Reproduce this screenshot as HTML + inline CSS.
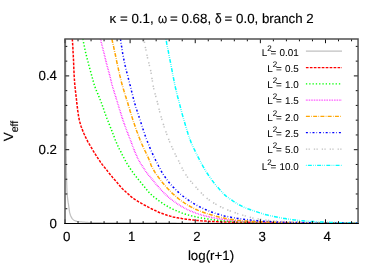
<!DOCTYPE html><html><head><meta charset="utf-8"><style>
html,body{margin:0;padding:0;background:#fff}
body{width:382px;height:266px;position:relative;overflow:hidden;font-family:"Liberation Sans",sans-serif;color:#000;font-size:13.3px;text-rendering:geometricPrecision;-webkit-text-stroke:0.15px #000}
.t{position:absolute;white-space:nowrap;line-height:1}
.r{text-align:right}
sup{font-size:8px;vertical-align:baseline;position:relative;top:-5.2px;line-height:0;margin-right:-1.1px}
sub{font-size:10.6px;vertical-align:baseline;position:relative;top:4.8px;line-height:0}
</style></head><body>
<svg width="382" height="266" viewBox="0 0 382 266" style="position:absolute;left:0;top:0">
<defs><clipPath id="c"><rect x="65" y="39" width="293.05" height="184.5"/></clipPath></defs>
<g clip-path="url(#c)" fill="none" stroke-width="1.5">
<path d="M65.6,39.0 L65.6,40.5 L65.6,42.0 L65.6,43.5 L65.6,45.0 L65.6,46.5 L65.6,48.0 L65.6,49.5 L65.6,51.0 L65.6,52.5 L65.7,54.0 L65.7,55.5 L65.7,57.0 L65.7,58.5 L65.7,60.0 L65.7,61.5 L65.7,63.0 L65.7,64.5 L65.7,66.0 L65.7,67.5 L65.7,69.0 L65.7,70.5 L65.7,72.0 L65.7,73.5 L65.7,75.0 L65.8,76.4 L65.8,77.9 L65.8,79.4 L65.8,80.9 L65.8,82.4 L65.8,83.9 L65.8,85.4 L65.8,86.9 L65.8,88.4 L65.8,89.9 L65.8,91.4 L65.8,92.9 L65.8,94.4 L65.9,95.9 L65.9,97.4 L65.9,98.9 L65.9,100.4 L65.9,101.9 L65.9,103.4 L65.9,104.9 L65.9,106.4 L65.9,107.9 L65.9,109.4 L65.9,110.9 L66.0,112.4 L66.0,113.9 L66.0,115.4 L66.0,116.9 L66.0,118.4 L66.0,119.9 L66.0,121.4 L66.0,122.9 L66.0,124.4 L66.0,125.9 L66.0,127.4 L66.1,128.9 L66.1,130.4 L66.1,131.9 L66.1,133.4 L66.1,134.9 L66.1,136.4 L66.1,137.9 L66.1,139.4 L66.1,140.9 L66.1,142.4 L66.1,143.9 L66.2,145.4 L66.2,146.9 L66.2,148.4 L66.2,149.9 L66.2,151.3 L66.2,152.8 L66.2,154.3 L66.2,155.8 L66.3,157.3 L66.3,158.8 L66.3,160.3 L66.3,161.8 L66.3,163.3 L66.3,164.8 L66.4,166.3 L66.4,167.8 L66.4,169.3 L66.4,170.8 L66.4,172.3 L66.5,173.8 L66.5,175.3 L66.5,176.8 L66.5,178.3 L66.6,179.8 L66.6,181.3 L66.7,182.8 L66.7,184.3 L66.8,185.8 L66.8,187.3 L66.9,188.8 L66.9,190.3 L67.0,191.8 L67.1,193.3 L67.2,194.8 L67.4,196.3 L67.5,197.7 L67.7,199.2 L67.9,200.7 L68.1,202.2 L68.4,203.7 L68.6,205.2 L68.8,206.7 L69.0,208.2 L69.2,209.7 L69.4,211.2 L69.7,212.7 L70.1,214.1 L70.5,215.5 L71.2,216.9 L72.0,218.3 L72.9,219.4 L74.0,220.2 L75.4,220.8 L76.9,221.3 L78.4,221.6 L79.9,221.8 L81.4,221.9 L82.8,222.1 L84.3,222.2 L85.8,222.3 L87.4,222.4 L88.9,222.5 L90.4,222.5 L91.9,222.5 L93.4,222.6 L94.8,222.6 L96.3,222.6 L97.8,222.7 L99.3,222.7 L100.8,222.7 L102.3,222.8 L103.8,222.8 L105.3,222.8 L106.8,222.8 L108.3,222.8 L109.8,222.8 L111.3,222.9 L112.8,222.9 L114.3,222.9 L115.8,222.9 L117.3,222.9 L118.8,222.9 L120.3,222.9 L121.8,222.9 L123.3,222.9 L124.8,222.9 L126.3,222.9 L127.8,222.9 L129.3,222.9 L130.8,222.9 L132.3,222.9 L133.8,222.9 L135.3,222.9 L136.8,222.9 L138.3,222.9 L139.8,222.9 L141.3,222.9 L142.8,222.9 L144.3,222.9 L145.8,222.9 L147.3,222.9 L148.8,222.9 L150.3,222.9 L151.8,222.9 L153.3,222.9 L154.8,222.9 L156.3,222.9 L157.8,222.9 L159.3,222.9 L160.8,222.9 L162.3,222.9 L163.8,222.9 L165.3,222.9 L166.8,222.9 L168.3,222.9 L169.7,222.9 L171.2,222.9 L172.7,222.9 L174.2,222.9 L175.7,222.9 L177.2,223.0 L178.7,223.0 L180.2,223.0 L181.7,223.0 L183.2,223.0 L184.7,223.0 L186.2,223.0 L187.7,223.0 L189.2,223.0 L190.7,223.0 L192.2,223.0 L193.7,223.0 L195.2,223.0 L196.7,223.0 L198.2,223.0 L199.7,223.0 L201.2,223.0 L202.7,223.0 L204.2,223.0 L205.7,223.0 L207.2,223.0 L208.7,223.0 L210.2,223.0 L211.7,223.0 L213.2,223.0 L214.7,223.0 L216.2,223.0 L217.7,223.0 L219.2,223.0 L220.7,223.0 L222.2,223.0 L223.7,223.0 L225.2,223.0 L226.7,223.0 L228.2,223.0 L229.7,223.0 L231.2,223.0 L232.7,223.0 L234.2,223.0 L235.7,223.0 L237.2,223.0 L238.7,223.0 L240.2,223.0 L241.7,223.0 L243.1,223.0 L244.6,223.0 L246.1,223.0 L247.6,223.0 L249.1,223.0 L250.6,223.0 L252.1,223.0 L253.6,223.0 L255.1,223.0 L256.6,223.0 L258.1,223.0 L259.6,223.0 L261.1,223.0 L262.6,223.0 L264.1,223.0 L265.6,223.0 L267.1,223.0 L268.6,223.0 L270.1,223.0 L271.6,223.0 L273.1,223.0 L274.6,223.0 L276.1,223.0 L277.6,223.0 L279.1,223.0 L280.6,223.0 L282.1,223.0 L283.6,223.0 L285.1,223.0 L286.6,223.0 L288.1,223.0 L289.6,223.0 L291.1,223.0 L292.6,223.0 L294.1,223.0 L295.6,223.0 L297.1,223.0 L298.6,223.0 L300.1,223.0 L301.6,223.0 L303.1,223.0 L304.6,223.0 L306.1,223.0 L307.6,223.0 L309.1,223.0 L310.6,223.0 L312.1,223.0 L313.6,223.0 L315.1,223.0 L316.6,223.0 L318.1,223.0 L319.5,223.0 L321.0,223.0 L322.5,223.0 L324.0,223.0 L325.5,223.0 L327.0,223.0 L328.5,223.0 L330.0,223.0 L331.5,223.0 L333.0,223.0 L334.5,223.0 L336.0,223.0 L337.5,223.0 L339.0,223.0 L340.5,223.0 L342.0,223.0 L343.5,223.0 L345.0,223.0 L346.5,223.0 L348.0,223.0 L349.5,223.0 L351.0,223.0 L352.5,223.0 L354.0,223.0 L355.5,223.0 L357.0,223.0 L358.5,223.0" stroke="#c0c0c0" stroke-width="1.25"/>
<path d="M72.3,38.9 L72.4,40.4 L72.5,41.9 L72.6,43.4 L72.7,44.9 L72.8,46.4 L72.9,47.9 L72.9,49.4 L73.0,50.9 L73.1,52.4 L73.2,53.9 L73.3,55.4 L73.3,56.9 L73.4,58.4 L73.5,59.9 L73.6,61.3 L73.6,62.8 L73.7,64.3 L73.7,65.8 L73.8,67.3 L73.8,68.8 L73.9,70.3 L74.0,71.8 L74.0,73.3 L74.1,74.8 L74.2,76.3 L74.3,77.8 L74.4,79.3 L74.5,80.8 L74.6,82.3 L74.7,83.8 L74.9,85.3 L75.0,86.8 L75.2,88.3 L75.3,89.8 L75.5,91.3 L75.7,92.7 L75.8,94.2 L76.0,95.7 L76.2,97.2 L76.4,98.7 L76.5,100.2 L76.7,101.7 L76.8,103.2 L77.0,104.7 L77.2,106.2 L77.4,107.6 L77.5,109.1 L77.7,110.6 L78.0,112.1 L78.2,113.6 L78.4,115.1 L78.6,116.6 L78.9,118.0 L79.2,119.5 L79.5,121.0 L79.9,122.4 L80.3,123.8 L80.7,125.3 L81.2,126.7 L81.8,128.1 L82.3,129.5 L82.8,130.9 L83.4,132.3 L84.0,133.7 L84.6,135.0 L85.2,136.4 L85.9,137.8 L86.5,139.1 L87.2,140.4 L87.9,141.8 L88.7,143.1 L89.4,144.3 L90.2,145.6 L90.9,146.9 L91.7,148.2 L92.4,149.5 L93.2,150.8 L94.0,152.1 L94.8,153.4 L95.6,154.6 L96.4,155.9 L97.2,157.2 L98.0,158.4 L98.8,159.7 L99.7,160.9 L100.5,162.2 L101.4,163.4 L102.3,164.6 L103.2,165.7 L104.2,166.9 L105.1,168.1 L106.1,169.2 L107.0,170.4 L107.9,171.6 L108.8,172.8 L109.8,174.0 L110.7,175.1 L111.7,176.3 L112.6,177.4 L113.6,178.6 L114.6,179.7 L115.6,180.8 L116.6,181.9 L117.5,183.1 L118.5,184.2 L119.5,185.4 L120.4,186.5 L121.4,187.7 L122.4,188.8 L123.5,189.8 L124.6,190.8 L125.7,191.8 L126.8,192.8 L128.0,193.8 L129.1,194.8 L130.2,195.9 L131.3,196.8 L132.5,197.8 L133.7,198.6 L134.9,199.5 L136.2,200.3 L137.5,201.1 L138.8,201.9 L140.1,202.6 L141.4,203.3 L142.7,204.1 L144.0,204.8 L145.3,205.5 L146.6,206.2 L147.9,206.9 L149.3,207.6 L150.6,208.3 L151.9,209.0 L153.3,209.6 L154.7,210.3 L156.0,210.9 L157.4,211.6 L158.7,212.2 L160.1,212.8 L161.5,213.3 L162.9,213.8 L164.3,214.3 L165.7,214.8 L167.2,215.3 L168.6,215.7 L170.1,216.1 L171.5,216.5 L173.0,216.9 L174.4,217.2 L175.9,217.5 L177.3,217.8 L178.8,218.1 L180.3,218.3 L181.8,218.6 L183.3,218.8 L184.7,219.0 L186.2,219.2 L187.7,219.4 L189.2,219.6 L190.7,219.8 L192.2,219.9 L193.7,220.1 L195.2,220.2 L196.7,220.4 L198.2,220.5 L199.7,220.6 L201.2,220.8 L202.6,220.9 L204.1,221.0 L205.6,221.1 L207.1,221.2 L208.6,221.3 L210.1,221.4 L211.6,221.4 L213.1,221.5 L214.6,221.6 L216.1,221.6 L217.6,221.7 L219.1,221.8 L220.6,221.8 L222.1,221.9 L223.6,221.9 L225.1,222.0 L226.6,222.0 L228.1,222.1 L229.6,222.1 L231.1,222.2 L232.6,222.2 L234.1,222.3 L235.6,222.3 L237.1,222.3 L238.6,222.4 L240.1,222.4 L241.6,222.4 L243.1,222.5 L244.6,222.5 L246.1,222.5 L247.6,222.5 L249.1,222.6 L250.6,222.6 L252.1,222.6 L253.6,222.6 L255.1,222.6 L256.6,222.7 L258.1,222.7 L259.6,222.7 L261.1,222.7 L262.6,222.7 L264.1,222.7 L265.6,222.8 L267.1,222.8 L268.6,222.8 L270.1,222.8 L271.6,222.8 L273.1,222.8 L274.6,222.8 L276.1,222.9 L277.6,222.9 L279.1,222.9 L280.6,222.9 L282.1,222.9 L283.6,222.9 L285.1,222.9 L286.6,222.9 L288.1,222.9 L289.5,223.0 L291.0,223.0 L292.5,223.0 L294.0,223.0 L295.5,223.0 L297.0,223.0 L298.5,223.0 L300.0,223.0 L301.5,223.0 L303.0,223.0 L304.5,223.0 L306.0,223.0 L307.5,223.0 L309.0,223.0 L310.5,223.0 L312.0,223.0 L313.5,223.0 L315.0,223.0 L316.5,223.0 L318.0,223.0 L319.5,223.1 L321.0,223.1 L322.5,223.1 L324.0,223.1 L325.5,223.1 L327.0,223.1 L328.5,223.1 L330.0,223.1 L331.5,223.1 L333.0,223.1 L334.5,223.1 L336.0,223.1 L337.5,223.1 L339.0,223.1 L340.5,223.1 L342.0,223.1 L343.5,223.1 L345.0,223.1 L346.5,223.1 L348.0,223.1 L349.5,223.1 L351.0,223.1 L352.5,223.1 L354.0,223.1 L355.5,223.1 L357.0,223.1 L358.5,223.1" stroke="#ff0000" stroke-dasharray="2.64 1.32"/>
<path d="M82.9,38.9 L83.2,40.4 L83.4,41.8 L83.7,43.3 L84.0,44.8 L84.3,46.2 L84.6,47.7 L84.9,49.2 L85.2,50.6 L85.5,52.1 L85.9,53.5 L86.2,55.0 L86.6,56.4 L86.9,57.9 L87.3,59.3 L87.7,60.8 L88.1,62.2 L88.4,63.7 L88.8,65.1 L89.2,66.6 L89.6,68.0 L90.0,69.5 L90.4,70.9 L90.8,72.3 L91.2,73.8 L91.6,75.2 L92.0,76.7 L92.4,78.1 L92.8,79.5 L93.2,81.0 L93.6,82.4 L94.0,83.9 L94.4,85.3 L94.9,86.7 L95.4,88.1 L96.0,89.5 L96.5,90.9 L97.1,92.2 L97.7,93.6 L98.3,95.0 L98.8,96.4 L99.4,97.8 L100.0,99.2 L100.6,100.5 L101.1,101.9 L101.6,103.3 L102.1,104.7 L102.6,106.2 L103.1,107.6 L103.6,109.0 L104.1,110.4 L104.5,111.8 L105.0,113.2 L105.5,114.6 L106.0,116.0 L106.5,117.4 L107.1,118.8 L107.7,120.2 L108.2,121.6 L108.8,123.0 L109.3,124.4 L109.9,125.8 L110.4,127.2 L110.9,128.6 L111.5,130.0 L112.0,131.3 L112.6,132.7 L113.1,134.1 L113.7,135.5 L114.2,136.9 L114.7,138.3 L115.2,139.7 L115.8,141.1 L116.4,142.5 L116.9,143.9 L117.5,145.2 L118.2,146.6 L118.8,147.9 L119.5,149.3 L120.2,150.6 L120.9,151.9 L121.6,153.2 L122.2,154.6 L122.9,155.9 L123.6,157.3 L124.2,158.6 L124.9,159.9 L125.7,161.2 L126.4,162.5 L127.2,163.8 L128.0,165.1 L128.8,166.3 L129.6,167.6 L130.4,168.8 L131.2,170.1 L132.1,171.3 L132.9,172.5 L133.8,173.7 L134.7,174.9 L135.6,176.1 L136.6,177.3 L137.5,178.4 L138.4,179.6 L139.4,180.7 L140.4,181.9 L141.3,183.0 L142.3,184.2 L143.2,185.4 L144.2,186.5 L145.1,187.7 L146.0,188.9 L147.0,190.1 L147.9,191.2 L148.9,192.3 L149.9,193.4 L151.0,194.4 L152.1,195.4 L153.2,196.4 L154.4,197.4 L155.6,198.3 L156.8,199.2 L158.0,200.1 L159.2,201.0 L160.4,201.8 L161.6,202.6 L162.9,203.5 L164.1,204.3 L165.4,205.1 L166.7,205.9 L168.0,206.6 L169.3,207.4 L170.6,208.1 L171.9,208.7 L173.3,209.4 L174.6,210.0 L176.0,210.6 L177.4,211.2 L178.8,211.8 L180.2,212.3 L181.6,212.9 L183.0,213.4 L184.4,213.9 L185.8,214.3 L187.2,214.7 L188.7,215.1 L190.1,215.5 L191.6,215.9 L193.0,216.3 L194.5,216.6 L195.9,216.9 L197.4,217.3 L198.9,217.6 L200.3,217.8 L201.8,218.1 L203.3,218.4 L204.8,218.6 L206.2,218.8 L207.7,219.0 L209.2,219.2 L210.7,219.4 L212.1,219.6 L213.6,219.8 L215.1,220.0 L216.6,220.2 L218.1,220.3 L219.6,220.5 L221.1,220.6 L222.6,220.8 L224.0,220.9 L225.5,221.0 L227.0,221.1 L228.5,221.2 L230.0,221.3 L231.5,221.4 L233.0,221.5 L234.5,221.6 L236.0,221.6 L237.5,221.7 L239.0,221.8 L240.5,221.8 L242.0,221.9 L243.4,221.9 L244.9,222.0 L246.4,222.0 L247.9,222.1 L249.4,222.1 L250.9,222.1 L252.4,222.2 L253.9,222.2 L255.4,222.3 L256.9,222.3 L258.4,222.3 L259.9,222.4 L261.4,222.4 L262.9,222.4 L264.4,222.4 L265.8,222.5 L267.3,222.5 L268.8,222.5 L270.3,222.6 L271.8,222.6 L273.3,222.6 L274.8,222.6 L276.3,222.7 L277.8,222.7 L279.3,222.7 L280.8,222.7 L282.3,222.7 L283.8,222.8 L285.3,222.8 L286.8,222.8 L288.3,222.8 L289.8,222.8 L291.3,222.8 L292.7,222.8 L294.2,222.9 L295.7,222.9 L297.2,222.9 L298.7,222.9 L300.2,222.9 L301.7,222.9 L303.2,222.9 L304.7,222.9 L306.2,222.9 L307.7,222.9 L309.2,223.0 L310.7,223.0 L312.2,223.0 L313.7,223.0 L315.2,223.0 L316.7,223.0 L318.2,223.0 L319.6,223.0 L321.1,223.0 L322.6,223.0 L324.1,223.0 L325.6,223.0 L327.1,223.0 L328.6,223.0 L330.1,223.0 L331.6,223.1 L333.1,223.1 L334.6,223.1 L336.1,223.1 L337.6,223.1 L339.1,223.1 L340.6,223.1 L342.1,223.1 L343.6,223.1 L345.1,223.1 L346.5,223.1 L348.0,223.1 L349.5,223.1 L351.0,223.1 L352.5,223.1 L354.0,223.1 L355.5,223.1 L357.0,223.1 L358.5,223.1" stroke="#00ff00" stroke-dasharray="1.32 1.98"/>
<path d="M100.4,38.9 L100.8,40.4 L101.1,41.8 L101.5,43.3 L101.9,44.7 L102.2,46.2 L102.6,47.6 L103.0,49.1 L103.3,50.5 L103.7,52.0 L104.1,53.4 L104.4,54.9 L104.8,56.4 L105.1,57.8 L105.5,59.3 L105.8,60.7 L106.2,62.2 L106.6,63.6 L106.9,65.1 L107.3,66.5 L107.7,68.0 L108.1,69.4 L108.5,70.9 L108.9,72.3 L109.3,73.8 L109.7,75.2 L110.1,76.7 L110.4,78.1 L110.8,79.6 L111.1,81.0 L111.5,82.5 L111.8,84.0 L112.2,85.4 L112.6,86.8 L113.0,88.3 L113.5,89.7 L113.9,91.1 L114.4,92.6 L114.8,94.0 L115.3,95.4 L115.7,96.9 L116.2,98.3 L116.6,99.7 L117.1,101.2 L117.5,102.6 L117.9,104.0 L118.4,105.5 L118.8,106.9 L119.2,108.3 L119.7,109.8 L120.1,111.2 L120.6,112.6 L121.0,114.1 L121.5,115.5 L121.9,116.9 L122.4,118.3 L122.9,119.8 L123.3,121.2 L123.8,122.6 L124.3,124.0 L124.8,125.4 L125.3,126.8 L125.9,128.2 L126.4,129.6 L126.9,131.1 L127.5,132.5 L128.0,133.9 L128.5,135.3 L129.1,136.7 L129.6,138.0 L130.2,139.4 L130.7,140.8 L131.2,142.2 L131.8,143.7 L132.3,145.1 L132.8,146.5 L133.4,147.9 L133.9,149.3 L134.4,150.7 L135.0,152.1 L135.6,153.5 L136.2,154.9 L136.8,156.2 L137.4,157.6 L138.0,158.9 L138.7,160.2 L139.5,161.5 L140.3,162.8 L141.1,164.0 L141.9,165.3 L142.7,166.6 L143.5,167.9 L144.3,169.1 L145.1,170.4 L145.9,171.7 L146.8,172.9 L147.7,174.0 L148.7,175.2 L149.7,176.3 L150.6,177.5 L151.6,178.6 L152.5,179.8 L153.5,181.0 L154.4,182.2 L155.3,183.3 L156.3,184.5 L157.3,185.6 L158.3,186.7 L159.3,187.9 L160.3,189.0 L161.3,190.1 L162.3,191.2 L163.4,192.3 L164.4,193.3 L165.5,194.4 L166.6,195.4 L167.7,196.4 L168.8,197.4 L170.0,198.3 L171.1,199.3 L172.3,200.2 L173.5,201.1 L174.8,202.0 L176.0,202.9 L177.2,203.7 L178.5,204.5 L179.7,205.3 L181.0,206.1 L182.3,206.8 L183.6,207.6 L185.0,208.3 L186.3,209.0 L187.6,209.6 L189.0,210.3 L190.4,210.9 L191.8,211.5 L193.1,212.1 L194.5,212.6 L195.9,213.1 L197.3,213.6 L198.8,214.1 L200.2,214.5 L201.6,215.0 L203.1,215.4 L204.5,215.8 L206.0,216.2 L207.5,216.5 L208.9,216.9 L210.4,217.2 L211.8,217.5 L213.3,217.8 L214.8,218.0 L216.3,218.3 L217.7,218.6 L219.2,218.8 L220.7,219.0 L222.2,219.3 L223.7,219.5 L225.2,219.6 L226.7,219.8 L228.1,220.0 L229.6,220.2 L231.1,220.3 L232.6,220.5 L234.1,220.7 L235.6,220.8 L237.1,221.0 L238.6,221.1 L240.1,221.2 L241.6,221.3 L243.1,221.4 L244.6,221.5 L246.1,221.5 L247.6,221.6 L249.1,221.7 L250.6,221.7 L252.1,221.8 L253.6,221.8 L255.0,221.9 L256.5,221.9 L258.0,222.0 L259.5,222.0 L261.0,222.1 L262.5,222.1 L264.0,222.2 L265.5,222.2 L267.0,222.2 L268.5,222.3 L270.0,222.3 L271.5,222.4 L273.0,222.4 L274.5,222.4 L276.0,222.5 L277.5,222.5 L279.0,222.5 L280.5,222.5 L282.0,222.6 L283.5,222.6 L285.0,222.6 L286.5,222.6 L288.0,222.7 L289.5,222.7 L291.0,222.7 L292.5,222.7 L294.0,222.7 L295.5,222.8 L297.0,222.8 L298.5,222.8 L300.0,222.8 L301.5,222.8 L303.0,222.8 L304.5,222.8 L306.0,222.9 L307.5,222.9 L309.0,222.9 L310.5,222.9 L312.0,222.9 L313.5,222.9 L315.0,222.9 L316.5,222.9 L318.0,222.9 L319.5,223.0 L321.0,223.0 L322.5,223.0 L324.0,223.0 L325.5,223.0 L327.0,223.0 L328.5,223.0 L330.0,223.0 L331.5,223.0 L333.0,223.0 L334.5,223.0 L336.0,223.0 L337.5,223.1 L339.0,223.1 L340.5,223.1 L342.0,223.1 L343.5,223.1 L345.0,223.1 L346.5,223.1 L348.0,223.1 L349.5,223.1 L351.0,223.1 L352.5,223.1 L354.0,223.1 L355.5,223.1 L357.0,223.1 L358.5,223.1" stroke="#ff00ff" stroke-dasharray="0.66 0.99"/>
<path d="M111.9,38.9 L112.2,40.4 L112.5,41.8 L112.8,43.3 L113.2,44.8 L113.5,46.2 L113.8,47.7 L114.1,49.1 L114.4,50.6 L114.7,52.1 L115.1,53.5 L115.4,55.0 L115.7,56.5 L116.0,57.9 L116.3,59.4 L116.6,60.9 L116.9,62.3 L117.2,63.8 L117.6,65.2 L117.9,66.7 L118.2,68.2 L118.5,69.6 L118.8,71.1 L119.2,72.6 L119.5,74.0 L119.8,75.5 L120.2,76.9 L120.5,78.4 L120.9,79.8 L121.2,81.3 L121.6,82.7 L122.0,84.2 L122.4,85.6 L122.8,87.1 L123.2,88.5 L123.7,89.9 L124.1,91.4 L124.5,92.8 L125.0,94.2 L125.4,95.7 L125.9,97.1 L126.3,98.5 L126.8,99.9 L127.2,101.4 L127.7,102.8 L128.1,104.2 L128.5,105.7 L128.9,107.1 L129.4,108.5 L129.8,110.0 L130.2,111.4 L130.7,112.8 L131.1,114.3 L131.5,115.7 L132.0,117.1 L132.5,118.6 L132.9,120.0 L133.4,121.4 L133.9,122.8 L134.4,124.2 L134.8,125.6 L135.3,127.1 L135.8,128.5 L136.3,129.9 L136.8,131.3 L137.4,132.7 L137.9,134.1 L138.4,135.5 L138.9,136.9 L139.5,138.3 L140.0,139.7 L140.6,141.1 L141.2,142.5 L141.7,143.8 L142.4,145.2 L143.0,146.6 L143.6,147.9 L144.3,149.3 L144.9,150.6 L145.6,152.0 L146.2,153.3 L146.9,154.7 L147.5,156.0 L148.1,157.4 L148.7,158.8 L149.3,160.2 L149.8,161.6 L150.3,163.0 L150.8,164.4 L151.3,165.8 L152.0,167.1 L152.7,168.4 L153.4,169.7 L154.2,171.0 L155.0,172.3 L155.8,173.5 L156.7,174.8 L157.6,176.0 L158.4,177.2 L159.3,178.4 L160.2,179.6 L161.1,180.8 L162.0,182.0 L163.0,183.2 L163.9,184.3 L164.9,185.5 L165.9,186.6 L166.9,187.7 L167.9,188.8 L169.0,189.9 L170.0,190.9 L171.1,192.0 L172.1,193.1 L173.2,194.1 L174.4,195.1 L175.5,196.1 L176.6,197.1 L177.8,198.1 L178.9,199.0 L180.1,199.9 L181.3,200.8 L182.5,201.6 L183.8,202.5 L185.0,203.3 L186.3,204.1 L187.5,204.9 L188.8,205.7 L190.2,206.5 L191.5,207.2 L192.8,207.9 L194.1,208.5 L195.5,209.2 L196.8,209.8 L198.2,210.4 L199.6,210.9 L201.0,211.5 L202.4,212.0 L203.8,212.5 L205.2,213.0 L206.6,213.5 L208.1,214.0 L209.5,214.4 L210.9,214.8 L212.4,215.2 L213.8,215.7 L215.3,216.0 L216.7,216.4 L218.2,216.8 L219.6,217.2 L221.1,217.5 L222.5,217.8 L224.0,218.1 L225.5,218.4 L226.9,218.6 L228.4,218.9 L229.9,219.1 L231.4,219.4 L232.9,219.6 L234.3,219.8 L235.8,220.1 L237.3,220.3 L238.8,220.4 L240.3,220.6 L241.8,220.7 L243.3,220.9 L244.8,221.0 L246.3,221.1 L247.7,221.1 L249.2,221.2 L250.7,221.3 L252.2,221.4 L253.7,221.4 L255.2,221.5 L256.7,221.6 L258.2,221.6 L259.7,221.7 L261.2,221.8 L262.7,221.8 L264.2,221.9 L265.7,221.9 L267.2,222.0 L268.7,222.0 L270.2,222.1 L271.7,222.1 L273.2,222.2 L274.7,222.2 L276.2,222.3 L277.7,222.3 L279.2,222.3 L280.7,222.4 L282.1,222.4 L283.6,222.4 L285.1,222.5 L286.6,222.5 L288.1,222.5 L289.6,222.6 L291.1,222.6 L292.6,222.6 L294.1,222.6 L295.6,222.6 L297.1,222.7 L298.6,222.7 L300.1,222.7 L301.6,222.7 L303.1,222.7 L304.6,222.8 L306.1,222.8 L307.6,222.8 L309.1,222.8 L310.6,222.8 L312.1,222.8 L313.6,222.8 L315.1,222.9 L316.6,222.9 L318.1,222.9 L319.6,222.9 L321.1,222.9 L322.6,222.9 L324.1,222.9 L325.6,223.0 L327.1,223.0 L328.6,223.0 L330.1,223.0 L331.6,223.0 L333.1,223.0 L334.5,223.0 L336.0,223.0 L337.5,223.0 L339.0,223.0 L340.5,223.1 L342.0,223.1 L343.5,223.1 L345.0,223.1 L346.5,223.1 L348.0,223.1 L349.5,223.1 L351.0,223.1 L352.5,223.1 L354.0,223.1 L355.5,223.1 L357.0,223.1 L358.5,223.1" stroke="#ffa500" stroke-dasharray="3.96 1.32 0.66 1.32"/>
<path d="M120.5,39.0 L120.7,40.5 L120.9,42.0 L121.1,43.5 L121.3,44.9 L121.6,46.4 L121.8,47.9 L122.0,49.4 L122.3,50.8 L122.5,52.3 L122.8,53.8 L123.1,55.3 L123.3,56.7 L123.6,58.2 L123.9,59.7 L124.2,61.1 L124.5,62.6 L124.8,64.0 L125.1,65.5 L125.5,67.0 L125.8,68.4 L126.2,69.9 L126.5,71.3 L126.9,72.8 L127.3,74.2 L127.7,75.7 L128.1,77.1 L128.4,78.6 L128.8,80.0 L129.2,81.4 L129.6,82.9 L129.9,84.4 L130.3,85.8 L130.6,87.3 L131.0,88.7 L131.3,90.2 L131.7,91.6 L132.0,93.1 L132.4,94.5 L132.7,96.0 L133.1,97.4 L133.5,98.9 L133.9,100.3 L134.3,101.7 L134.7,103.2 L135.1,104.6 L135.6,106.0 L136.0,107.5 L136.5,108.9 L136.9,110.3 L137.4,111.7 L137.9,113.2 L138.3,114.6 L138.8,116.0 L139.2,117.4 L139.7,118.9 L140.2,120.3 L140.6,121.7 L141.1,123.1 L141.5,124.6 L142.0,126.0 L142.5,127.4 L142.9,128.8 L143.4,130.2 L143.9,131.7 L144.3,133.1 L144.8,134.5 L145.3,135.9 L145.8,137.3 L146.3,138.7 L146.8,140.1 L147.4,141.5 L147.9,142.9 L148.5,144.3 L149.1,145.7 L149.6,147.1 L150.2,148.4 L150.8,149.8 L151.4,151.2 L152.0,152.5 L152.6,153.9 L153.2,155.3 L153.9,156.6 L154.5,158.0 L155.2,159.3 L155.8,160.7 L156.5,162.0 L157.2,163.3 L157.9,164.6 L158.6,166.0 L159.3,167.3 L160.0,168.6 L160.7,170.0 L161.4,171.3 L162.1,172.6 L162.9,173.8 L163.7,175.1 L164.6,176.3 L165.4,177.5 L166.3,178.8 L167.2,180.0 L168.1,181.2 L169.0,182.4 L170.0,183.5 L171.0,184.7 L171.9,185.8 L172.9,186.9 L174.0,187.9 L175.0,189.0 L176.1,190.1 L177.2,191.1 L178.3,192.1 L179.4,193.1 L180.5,194.1 L181.7,195.1 L182.8,196.0 L184.0,196.9 L185.2,197.8 L186.4,198.7 L187.6,199.6 L188.8,200.4 L190.1,201.3 L191.4,202.1 L192.6,202.9 L193.9,203.7 L195.2,204.4 L196.5,205.2 L197.8,205.9 L199.2,206.6 L200.5,207.2 L201.8,207.9 L203.2,208.5 L204.5,209.2 L205.9,209.8 L207.3,210.4 L208.7,210.9 L210.1,211.5 L211.5,212.0 L212.9,212.5 L214.3,213.0 L215.7,213.5 L217.1,213.9 L218.6,214.3 L220.0,214.7 L221.4,215.1 L222.9,215.5 L224.4,215.9 L225.8,216.2 L227.3,216.5 L228.7,216.8 L230.2,217.1 L231.7,217.4 L233.1,217.7 L234.6,217.9 L236.1,218.1 L237.6,218.4 L239.1,218.6 L240.5,218.8 L242.0,219.0 L243.5,219.2 L245.0,219.4 L246.5,219.5 L248.0,219.7 L249.4,219.9 L250.9,220.1 L252.4,220.2 L253.9,220.4 L255.4,220.5 L256.9,220.7 L258.4,220.8 L259.9,220.9 L261.3,221.1 L262.8,221.2 L264.3,221.3 L265.8,221.3 L267.3,221.4 L268.8,221.5 L270.3,221.6 L271.8,221.7 L273.3,221.7 L274.8,221.8 L276.3,221.9 L277.8,221.9 L279.3,222.0 L280.8,222.1 L282.2,222.1 L283.7,222.2 L285.2,222.2 L286.7,222.3 L288.2,222.3 L289.7,222.4 L291.2,222.4 L292.7,222.5 L294.2,222.5 L295.7,222.5 L297.2,222.6 L298.7,222.6 L300.2,222.6 L301.7,222.6 L303.2,222.6 L304.7,222.7 L306.2,222.7 L307.7,222.7 L309.2,222.7 L310.7,222.7 L312.1,222.8 L313.6,222.8 L315.1,222.8 L316.6,222.8 L318.1,222.8 L319.6,222.9 L321.1,222.9 L322.6,222.9 L324.1,222.9 L325.6,222.9 L327.1,222.9 L328.6,223.0 L330.1,223.0 L331.6,223.0 L333.1,223.0 L334.6,223.0 L336.1,223.0 L337.6,223.0 L339.1,223.0 L340.6,223.0 L342.0,223.1 L343.5,223.1 L345.0,223.1 L346.5,223.1 L348.0,223.1 L349.5,223.1 L351.0,223.1 L352.5,223.1 L354.0,223.1 L355.5,223.1 L357.0,223.1 L358.5,223.1" stroke="#0000ff" stroke-dasharray="1.98 1.98 0.66 1.98"/>
<path d="M143.9,39.0 L144.1,40.5 L144.4,42.0 L144.7,43.4 L144.9,44.9 L145.2,46.4 L145.5,47.8 L145.8,49.3 L146.1,50.8 L146.4,52.2 L146.7,53.7 L147.0,55.2 L147.3,56.6 L147.6,58.1 L148.0,59.5 L148.3,61.0 L148.7,62.4 L149.1,63.9 L149.4,65.4 L149.8,66.8 L150.1,68.3 L150.5,69.7 L150.8,71.2 L151.1,72.6 L151.3,74.1 L151.6,75.6 L151.8,77.1 L152.0,78.6 L152.3,80.0 L152.5,81.5 L152.7,83.0 L153.0,84.5 L153.2,86.0 L153.5,87.4 L153.8,88.9 L154.1,90.3 L154.5,91.8 L154.9,93.2 L155.3,94.7 L155.7,96.1 L156.1,97.5 L156.5,99.0 L156.9,100.4 L157.3,101.9 L157.7,103.3 L158.0,104.8 L158.4,106.2 L158.7,107.7 L159.1,109.2 L159.4,110.6 L159.8,112.1 L160.2,113.5 L160.6,115.0 L161.0,116.4 L161.4,117.8 L161.8,119.3 L162.2,120.7 L162.7,122.1 L163.1,123.6 L163.6,125.0 L164.0,126.4 L164.5,127.8 L165.0,129.2 L165.5,130.7 L166.0,132.1 L166.5,133.5 L167.0,134.9 L167.5,136.3 L168.1,137.7 L168.6,139.1 L169.1,140.5 L169.7,141.9 L170.3,143.2 L170.9,144.6 L171.4,146.0 L172.0,147.4 L172.7,148.7 L173.3,150.1 L173.9,151.5 L174.5,152.8 L175.2,154.2 L175.8,155.5 L176.5,156.8 L177.2,158.2 L177.9,159.5 L178.6,160.8 L179.3,162.2 L179.9,163.5 L180.6,164.9 L181.2,166.2 L181.9,167.6 L182.5,168.9 L183.2,170.3 L183.9,171.6 L184.7,172.9 L185.4,174.1 L186.3,175.4 L187.1,176.6 L188.0,177.8 L188.9,179.0 L189.9,180.1 L190.8,181.3 L191.8,182.4 L192.8,183.6 L193.8,184.7 L194.8,185.8 L195.8,186.9 L196.8,188.1 L197.8,189.2 L198.8,190.3 L199.8,191.4 L200.8,192.5 L201.9,193.6 L203.0,194.7 L204.0,195.7 L205.1,196.7 L206.3,197.7 L207.4,198.6 L208.6,199.5 L209.8,200.4 L211.0,201.2 L212.2,202.0 L213.5,202.8 L214.8,203.6 L216.1,204.3 L217.4,205.1 L218.8,205.8 L220.1,206.5 L221.5,207.2 L222.8,207.8 L224.2,208.4 L225.5,209.0 L226.9,209.6 L228.3,210.2 L229.7,210.7 L231.1,211.3 L232.5,211.8 L233.9,212.3 L235.3,212.8 L236.7,213.3 L238.1,213.8 L239.6,214.2 L241.0,214.7 L242.4,215.1 L243.9,215.5 L245.3,215.9 L246.7,216.4 L248.2,216.8 L249.6,217.2 L251.1,217.5 L252.5,217.9 L254.0,218.2 L255.5,218.5 L256.9,218.8 L258.4,219.0 L259.9,219.3 L261.4,219.5 L262.8,219.7 L264.3,219.9 L265.8,220.1 L267.3,220.2 L268.8,220.4 L270.3,220.5 L271.8,220.7 L273.3,220.8 L274.7,220.9 L276.2,221.1 L277.7,221.2 L279.2,221.3 L280.7,221.4 L282.2,221.5 L283.7,221.5 L285.2,221.6 L286.7,221.7 L288.2,221.7 L289.7,221.8 L291.2,221.9 L292.7,221.9 L294.2,222.0 L295.7,222.1 L297.2,222.1 L298.7,222.2 L300.2,222.2 L301.6,222.3 L303.1,222.3 L304.6,222.4 L306.1,222.4 L307.6,222.4 L309.1,222.5 L310.6,222.5 L312.1,222.5 L313.6,222.6 L315.1,222.6 L316.6,222.6 L318.1,222.7 L319.6,222.7 L321.1,222.7 L322.6,222.7 L324.1,222.8 L325.6,222.8 L327.1,222.8 L328.6,222.8 L330.1,222.9 L331.6,222.9 L333.1,222.9 L334.6,222.9 L336.1,222.9 L337.6,223.0 L339.0,223.0 L340.5,223.0 L342.0,223.0 L343.5,223.0 L345.0,223.0 L346.5,223.0 L348.0,223.1 L349.5,223.1 L351.0,223.1 L352.5,223.1 L354.0,223.1 L355.5,223.1 L357.0,223.1 L358.5,223.1" stroke="#c0c0c0" stroke-dasharray="1.32 1.32 1.32 3.96"/>
<path d="M165.9,39.0 L166.2,40.5 L166.5,41.9 L166.7,43.4 L167.0,44.9 L167.3,46.4 L167.6,47.8 L167.9,49.3 L168.2,50.8 L168.5,52.2 L168.7,53.7 L169.0,55.2 L169.3,56.6 L169.6,58.1 L169.9,59.6 L170.2,61.1 L170.5,62.5 L170.7,64.0 L171.0,65.5 L171.3,66.9 L171.6,68.4 L171.9,69.9 L172.2,71.4 L172.4,72.8 L172.7,74.3 L173.0,75.8 L173.3,77.2 L173.6,78.7 L173.9,80.2 L174.2,81.6 L174.5,83.1 L174.8,84.6 L175.1,86.0 L175.4,87.5 L175.8,89.0 L176.1,90.4 L176.5,91.9 L176.8,93.3 L177.2,94.8 L177.5,96.2 L177.9,97.7 L178.3,99.1 L178.7,100.6 L179.0,102.0 L179.4,103.5 L179.8,104.9 L180.2,106.4 L180.5,107.8 L180.9,109.3 L181.3,110.7 L181.7,112.2 L182.1,113.6 L182.5,115.1 L182.9,116.5 L183.3,117.9 L183.8,119.4 L184.2,120.8 L184.6,122.3 L185.0,123.7 L185.4,125.1 L185.8,126.6 L186.3,128.0 L186.7,129.5 L187.1,130.9 L187.6,132.3 L188.0,133.8 L188.5,135.2 L189.0,136.6 L189.5,138.0 L190.0,139.4 L190.5,140.8 L191.0,142.2 L191.6,143.6 L192.2,144.9 L192.8,146.3 L193.5,147.7 L194.1,149.0 L194.8,150.4 L195.4,151.7 L196.1,153.1 L196.8,154.4 L197.4,155.8 L198.1,157.1 L198.8,158.4 L199.5,159.8 L200.2,161.1 L200.9,162.4 L201.6,163.7 L202.3,165.0 L203.0,166.4 L203.8,167.7 L204.5,169.0 L205.3,170.3 L206.0,171.5 L206.8,172.8 L207.7,174.0 L208.5,175.3 L209.4,176.5 L210.3,177.7 L211.1,178.9 L212.0,180.2 L212.9,181.4 L213.8,182.6 L214.7,183.8 L215.6,184.9 L216.6,186.1 L217.6,187.2 L218.6,188.3 L219.6,189.4 L220.6,190.5 L221.6,191.6 L222.6,192.7 L223.7,193.8 L224.7,194.9 L225.8,195.9 L227.0,196.8 L228.2,197.7 L229.4,198.6 L230.7,199.4 L231.9,200.2 L233.1,201.1 L234.4,201.9 L235.7,202.7 L236.9,203.5 L238.2,204.3 L239.5,205.0 L240.9,205.7 L242.2,206.4 L243.5,207.1 L244.9,207.7 L246.3,208.2 L247.7,208.8 L249.1,209.2 L250.5,209.7 L252.0,210.2 L253.4,210.7 L254.8,211.2 L256.2,211.6 L257.6,212.1 L259.1,212.6 L260.5,213.1 L261.9,213.5 L263.3,214.0 L264.8,214.4 L266.2,214.8 L267.7,215.1 L269.1,215.5 L270.6,215.8 L272.0,216.1 L273.5,216.4 L275.0,216.7 L276.5,217.0 L277.9,217.3 L279.4,217.6 L280.9,217.9 L282.3,218.1 L283.8,218.4 L285.3,218.6 L286.8,218.9 L288.3,219.1 L289.7,219.3 L291.2,219.5 L292.7,219.7 L294.2,219.9 L295.7,220.0 L297.2,220.2 L298.7,220.4 L300.2,220.5 L301.6,220.7 L303.1,220.8 L304.6,220.9 L306.1,221.0 L307.6,221.2 L309.1,221.3 L310.6,221.4 L312.1,221.5 L313.6,221.6 L315.1,221.7 L316.6,221.8 L318.1,221.9 L319.6,221.9 L321.1,222.0 L322.6,222.1 L324.1,222.1 L325.6,222.2 L327.1,222.3 L328.6,222.3 L330.0,222.4 L331.5,222.4 L333.0,222.5 L334.5,222.5 L336.0,222.6 L337.5,222.6 L339.0,222.7 L340.5,222.7 L342.0,222.8 L343.5,222.8 L345.0,222.8 L346.5,222.9 L348.0,222.9 L349.5,222.9 L351.0,222.9 L352.5,223.0 L354.0,223.0 L355.5,223.0 L357.0,223.0 L358.5,223.0" stroke="#00ffff" stroke-dasharray="0.66 1.32 3.96 1.32 0.66 1.32"/>
</g>
<g fill="none" stroke-width="1.25">
<path d="M305.9,51.2 H342" stroke="#c0c0c0"/>
<path d="M305.9,67.5 H342" stroke="#ff0000" stroke-dasharray="2.64 1.32"/>
<path d="M305.9,83.8 H342" stroke="#00ff00" stroke-dasharray="1.32 1.98"/>
<path d="M305.9,100.1 H342" stroke="#ff00ff" stroke-dasharray="0.66 0.99"/>
<path d="M305.9,116.4 H342" stroke="#ffa500" stroke-dasharray="3.96 1.32 0.66 1.32"/>
<path d="M305.9,132.7 H342" stroke="#0000ff" stroke-dasharray="1.98 1.98 0.66 1.98"/>
<path d="M305.9,149.0 H342" stroke="#c0c0c0" stroke-dasharray="1.32 1.32 1.32 3.96"/>
<path d="M305.9,165.3 H342" stroke="#00ffff" stroke-dasharray="0.66 1.32 3.96 1.32 0.66 1.32"/>
</g>
<path d="M65.00,223.5 v-4.2 M65.00,39.0 v4.2 M78.02,223.5 v-2.3 M78.02,39.0 v2.3 M91.05,223.5 v-2.3 M91.05,39.0 v2.3 M104.07,223.5 v-2.3 M104.07,39.0 v2.3 M117.10,223.5 v-2.3 M117.10,39.0 v2.3 M130.12,223.5 v-4.2 M130.12,39.0 v4.2 M143.15,223.5 v-2.3 M143.15,39.0 v2.3 M156.17,223.5 v-2.3 M156.17,39.0 v2.3 M169.20,223.5 v-2.3 M169.20,39.0 v2.3 M182.22,223.5 v-2.3 M182.22,39.0 v2.3 M195.24,223.5 v-4.2 M195.24,39.0 v4.2 M208.27,223.5 v-2.3 M208.27,39.0 v2.3 M221.29,223.5 v-2.3 M221.29,39.0 v2.3 M234.32,223.5 v-2.3 M234.32,39.0 v2.3 M247.34,223.5 v-2.3 M247.34,39.0 v2.3 M260.37,223.5 v-4.2 M260.37,39.0 v4.2 M273.39,223.5 v-2.3 M273.39,39.0 v2.3 M286.42,223.5 v-2.3 M286.42,39.0 v2.3 M299.44,223.5 v-2.3 M299.44,39.0 v2.3 M312.46,223.5 v-2.3 M312.46,39.0 v2.3 M325.49,223.5 v-4.2 M325.49,39.0 v4.2 M338.51,223.5 v-2.3 M338.51,39.0 v2.3 M351.54,223.5 v-2.3 M351.54,39.0 v2.3 M65.0,223.50 h4.2 M358.05,223.50 h-4.2 M65.0,208.74 h2.3 M358.05,208.74 h-2.3 M65.0,193.98 h2.3 M358.05,193.98 h-2.3 M65.0,179.22 h2.3 M358.05,179.22 h-2.3 M65.0,164.46 h2.3 M358.05,164.46 h-2.3 M65.0,149.70 h4.2 M358.05,149.70 h-4.2 M65.0,134.94 h2.3 M358.05,134.94 h-2.3 M65.0,120.18 h2.3 M358.05,120.18 h-2.3 M65.0,105.42 h2.3 M358.05,105.42 h-2.3 M65.0,90.66 h2.3 M358.05,90.66 h-2.3 M65.0,75.90 h4.2 M358.05,75.90 h-4.2 M65.0,61.14 h2.3 M358.05,61.14 h-2.3 M65.0,46.38 h2.3 M358.05,46.38 h-2.3" fill="none" stroke="#111" stroke-width="1"/>
<path d="M65.0,224.0 V39.0 H358.05 V224.0" fill="none" stroke="#505050" stroke-width="1.45"/>
<path d="M64.3,223.5 H358.75" fill="none" stroke="#000" stroke-width="1.1"/>
</svg>
<div style="position:absolute;left:0;top:0;width:382px;height:266px;will-change:transform">
<div id="title" style="font-size:13.3px"><span class="t" style="left:109.6px;top:12.4px">κ = 0.1,</span><span class="t" style="left:157.8px;top:12.4px"><span style="display:inline-block;transform:scaleX(0.88);transform-origin:0 50%">ω</span></span><span class="t" style="left:166.35px;top:12.4px">&nbsp;= 0.68,</span><span class="t" style="left:214.7px;top:12.4px"><span style="display:inline-block;transform:scaleX(0.9);transform-origin:0 50%">δ</span></span><span class="t" style="left:220.9px;top:12.4px">&nbsp;= 0.0, branch 2</span></div>
<div class="t r" style="right:325px;top:217.0px">0</div>
<div class="t r" style="right:325px;top:143.2px">0.2</div>
<div class="t r" style="right:325px;top:69.4px">0.4</div>
<div class="t" style="left:46.7px;width:40px;text-align:center;top:229.8px">0</div>
<div class="t" style="left:111.8px;width:40px;text-align:center;top:229.8px">1</div>
<div class="t" style="left:176.9px;width:40px;text-align:center;top:229.8px">2</div>
<div class="t" style="left:242.1px;width:40px;text-align:center;top:229.8px">3</div>
<div class="t" style="left:307.2px;width:40px;text-align:center;top:229.8px">4</div>
<div class="t" id="xl" style="left:161px;width:100px;text-align:center;top:248.5px">log(r+1)</div>
<div class="t" id="yl" style="left:9.4px;top:131.2px;transform:translate(-50%,-50%) rotate(-90deg)">V<sub>eff</sub></div>
<div class="t r leg" style="right:83.2px;top:49px;font-size:9.9px;-webkit-text-stroke:0.05px #000">L<sup>2</sup><span style="margin-right:0.5px">=</span> 0.01</div>
<div class="t r leg" style="right:83.2px;top:65px;font-size:9.9px;-webkit-text-stroke:0.05px #000">L<sup>2</sup><span style="margin-right:0.5px">=</span> 0.5</div>
<div class="t r leg" style="right:83.2px;top:81px;font-size:9.9px;-webkit-text-stroke:0.05px #000">L<sup>2</sup><span style="margin-right:0.5px">=</span> 1.0</div>
<div class="t r leg" style="right:83.2px;top:97px;font-size:9.9px;-webkit-text-stroke:0.05px #000">L<sup>2</sup><span style="margin-right:0.5px">=</span> 1.5</div>
<div class="t r leg" style="right:83.2px;top:114px;font-size:9.9px;-webkit-text-stroke:0.05px #000">L<sup>2</sup><span style="margin-right:0.5px">=</span> 2.0</div>
<div class="t r leg" style="right:83.2px;top:130px;font-size:9.9px;-webkit-text-stroke:0.05px #000">L<sup>2</sup><span style="margin-right:0.5px">=</span> 2.5</div>
<div class="t r leg" style="right:83.2px;top:146px;font-size:9.9px;-webkit-text-stroke:0.05px #000">L<sup>2</sup><span style="margin-right:0.5px">=</span> 5.0</div>
<div class="t r leg" style="right:83.2px;top:163px;font-size:9.9px;-webkit-text-stroke:0.05px #000">L<sup>2</sup><span style="margin-right:0.5px">=</span> 10.0</div>
</div></body></html>
